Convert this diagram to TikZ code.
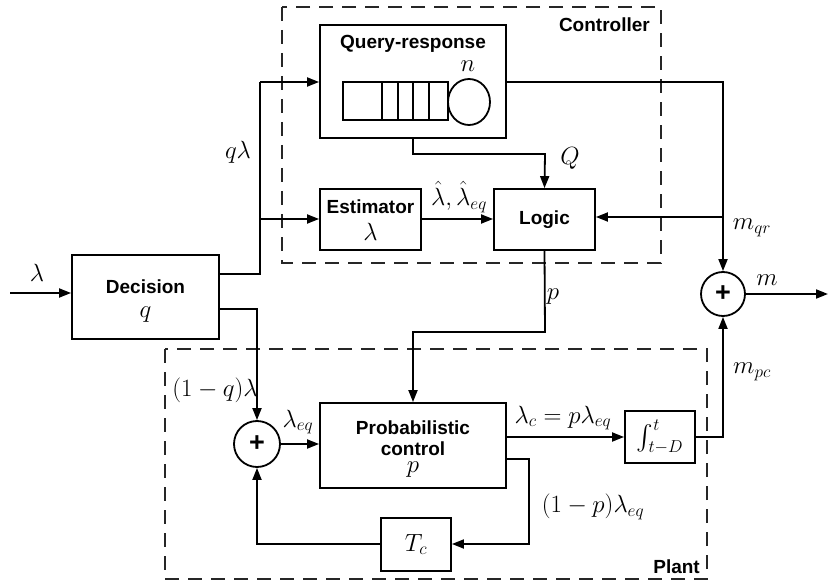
\documentclass[tikz,border=0pt]{standalone}
\usepackage{exscale}
\usepackage{fontspec}
\setsansfont{Liberation Sans}
\usetikzlibrary{arrows.meta,calc}
\begin{document}
\begin{tikzpicture}[x=1pt,y=-1pt,
  wire/.style={line width=1.8pt},
  arr/.style={wire,-{Triangle[length=12pt,width=9pt]}},
  blk/.style={draw,line width=1.8pt,rectangle,inner sep=0pt},
  sumc/.style={draw,line width=1.8pt,circle,minimum size=44pt,inner sep=0pt,font=\fontsize{27}{30}\sffamily\bfseries},
  bt/.style={font=\fontsize{19}{22}\sffamily\bfseries,inner sep=0pt},
  mt/.style={font=\fontsize{23}{26}\selectfont,inner sep=0pt},
  grp/.style={line width=1.6pt,dash pattern=on 14pt off 9pt,black!85}]
\useasboundingbox (0,0) rectangle (828,583);
% group frames
\draw[grp] (282,7) rectangle (661,263);
\draw[grp] (165,349) rectangle (707,579);
\node[bt,anchor=east] (ctrl) at (650,25) {Controller};
\node[bt,anchor=east] (plant) at (700,567) {Plant};
% blocks
\node[blk,minimum width=147pt,minimum height=84pt] (dec) at (145.5,297) {};
\node[bt] (dect) at (145.5,287) {Decision};
\node[mt] (decq) at (145.5,315) {$q$};
\node[blk,minimum width=186pt,minimum height=113pt] (qr) at (413,81.5) {};
\node[bt] (qrt) at (413,44) {Query-response};
\node[mt] (qrn) at (468,66) {$n$};
\draw[wire] (343,82) rectangle (448,120);
\foreach \xx in {382,398,413,429} \draw[wire] (\xx,82) -- (\xx,120);
\draw[wire] (469,102) ellipse [x radius=21, y radius=23];
\node[blk,minimum width=101pt,minimum height=61pt] (est) at (370.5,219.5) {};
\node[bt] (estt) at (370.5,207) {Estimator};
\node[mt] (estl) at (370.5,232) {$\lambda$};
\node[blk,minimum width=101pt,minimum height=61pt,bt] (log) at (544.5,219.5) {Logic};
\node[blk,minimum width=186pt,minimum height=85pt] (pc) at (413,445.5) {};
\node[bt] (pct1) at (413,428) {Probabilistic};
\node[bt] (pct2) at (413,449) {control};
\node[mt] (pcp) at (413,470) {$p$};
\node[blk,minimum width=70pt,minimum height=52pt,mt] (int) at (660,437) {$\int_{t-D}^{t}$};
\node[blk,minimum width=70pt,minimum height=53pt,mt] (tc) at (416,544.5) {$T_c$};
\node[sumc] (s1) at (723,294) {+};
\node[sumc,minimum size=46pt] (s2) at (257,444) {+};
% coordinates
\coordinate (in) at (10,293);
\coordinate (out) at (828,294);
\coordinate (ja) at (260,274);
\coordinate (jb) at (260,82);
\coordinate (jc) at (260,219);
\coordinate (jd) at (257,309);
\coordinate (je) at (723,82);
\coordinate (jf) at (723,217);
\coordinate (jg) at (413,154);
\coordinate (jh) at (545,154);
\coordinate (ji) at (545,332);
\coordinate (jj) at (413,332);
\coordinate (jk) at (529,459);
\coordinate (jl) at (529,544);
\coordinate (jm) at (257,544);
\coordinate (jn) at (723,437);
% connectors
\draw[arr] (in) -- (in -| dec.west);
\draw[wire] (ja -| dec.east) -- (ja) -- (jb);
\draw[arr] (jb) -- (jb -| qr.west);
\draw[arr] (jc) -- (jc -| est.west);
\draw[arr] (jd -| dec.east) -- (jd) -- (s2.north);
\draw[arr] (je -| qr.east) -- (je) -- (s1.north);
\draw[arr] (jf) -- (jf -| log.east);
\draw[arr] (jg |- qr.south) -- (jg) -- (jh) -- (log.north);
\draw[arr] (est.east |- 0,219) -- (log.west |- 0,219);
\draw[arr] (log.south) -- (ji) -- (jj) -- (pc.north);
\draw[arr] (s2.east) -- (s2.east -| pc.west);
\draw[arr] (pc.east |- int.west) -- (int.west);
\draw[arr] (jk -| pc.east) -- (jk) -- (jl) -- (jl -| tc.east);
\draw[arr] (tc.west |- jm) -- (jm) -- (s2.south);
\draw[arr] (int.east |- jn) -- (jn) -- (s1.south);
\draw[arr] (s1.east) -- (out);
% labels
\node[mt] (lin) at (37,273) {$\lambda$};
\node[mt] (lql) at (238,152) {$q\lambda$};
\node[mt] (l1q) at (215,390) {$(1-q)\lambda$};
\node[mt] (leq) at (298,422) {$\lambda_{eq}$};
\node[mt] (lhat) at (459,197) {$\hat{\lambda},\hat{\lambda}_{eq}$};
\node[mt] (lQ) at (570,158) {$Q$};
\node[mt] (lmqr) at (752,228) {$m_{qr}$};
\node[mt] (lm) at (767,280) {$m$};
\node[mt] (lmpc) at (752,372) {$m_{pc}$};
\node[mt] (lp) at (553,297) {$p$};
\node[mt] (llc) at (563,418) {$\lambda_c=p\lambda_{eq}$};
\node[mt] (l1p) at (593,507) {$(1-p)\lambda_{eq}$};
\end{tikzpicture}
\end{document}
